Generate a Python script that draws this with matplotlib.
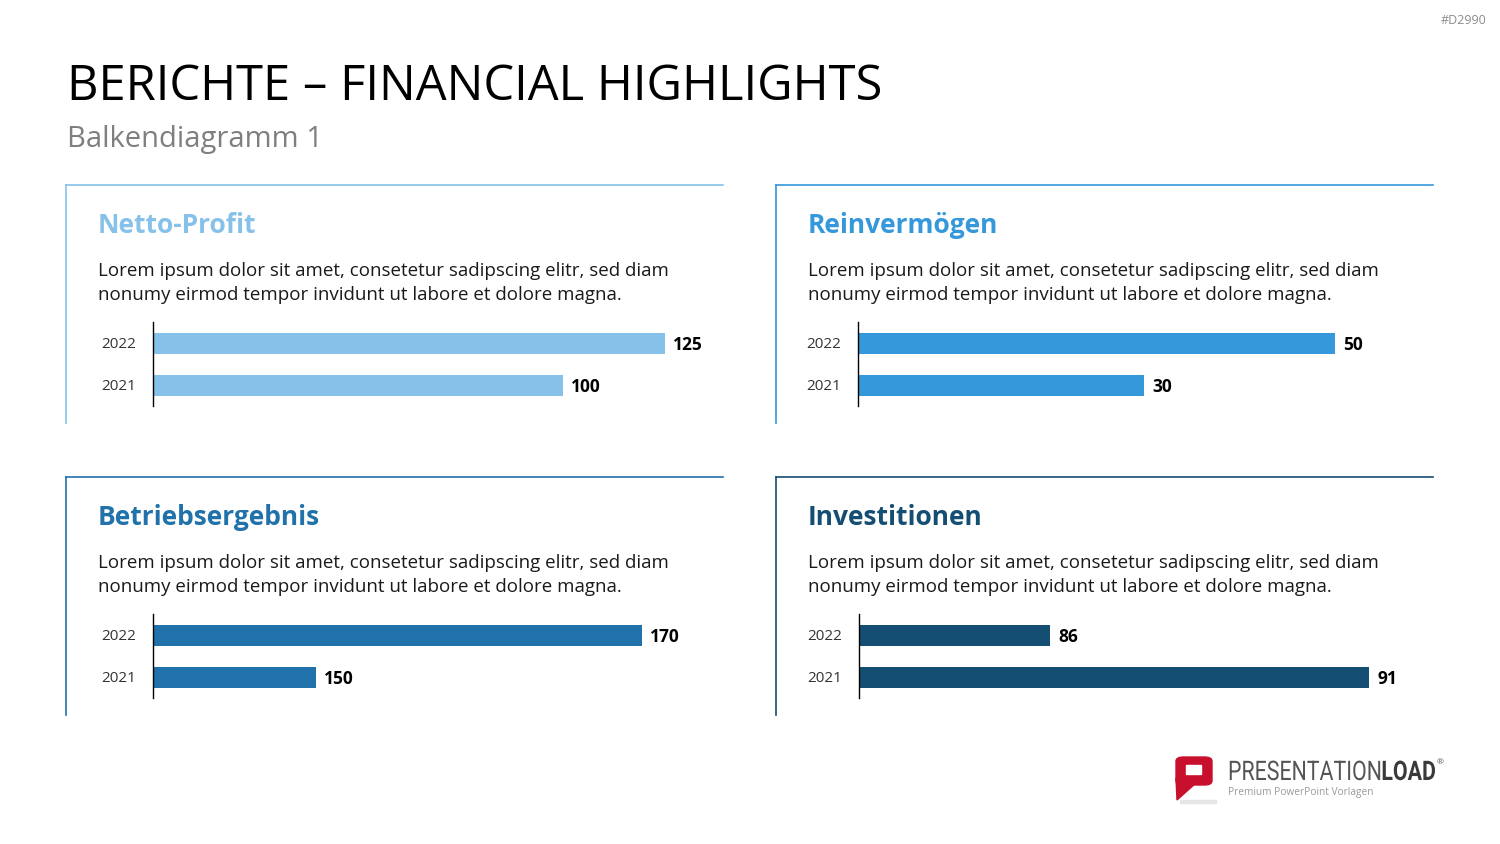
import matplotlib
matplotlib.use("Agg")
import matplotlib.pyplot as plt
from matplotlib.lines import Line2D
from matplotlib.patches import FancyBboxPatch, Rectangle, Polygon, PathPatch
from matplotlib.textpath import TextPath
from matplotlib.font_manager import FontProperties
from matplotlib.transforms import Affine2D

plt.rcParams['font.family'] = ['Open Sans', 'DejaVu Sans']

# ---------------------------------------------------------------------------
# Data
# ---------------------------------------------------------------------------
years = ['2021', '2022']
titles = ['Netto-Profit', 'Reinvermögen', 'Betriebsergebnis', 'Investitionen']
netto_profit = [100, 125]
reinvermoegen = [30, 50]
betriebsergebnis = [150, 170]
investitionen = [91, 86]
series = [netto_profit, reinvermoegen, betriebsergebnis, investitionen]
# axis ranges as shown in the original (bottom two do not start at zero)
xranges = [(0, 137.2), (0, 59.4), (140, 174.5), (83, 91.87)]
colors = ['#85C1E9', '#3498DB', '#2171AA', '#154E73']

body_lines = ["Lorem ipsum dolor sit amet, consetetur sadipscing elitr, sed diam",
              "nonumy eirmod tempor invidunt ut labore et dolore magna."]

W, H = 1500, 844
fig = plt.figure(figsize=(W / 100, H / 100), dpi=100)


def fx(x):
    return x / W


def fy(y):
    return 1 - y / H


def line(x0, y0, x1, y1, color, lw=1.2):
    fig.add_artist(Line2D([fx(x0), fx(x1)], [fy(y0), fy(y1)], color=color, lw=lw,
                          transform=fig.transFigure))


# header
fig.text(fx(67), fy(100), 'BERICHTE – FINANCIAL HIGHLIGHTS', fontsize=35.2,
         color='black', va='baseline', ha='left')
fig.text(fx(67), fy(147), 'Balkendiagramm 1', fontsize=21, color='#7F7F7F',
         va='baseline', ha='left')
fig.text(fx(1486), fy(20), '#D2990', fontsize=9, color='#8C8C8C', va='center', ha='right')

# panels: (frame left, frame top, axes left, axes width)
panels = [(66, 185, 153, 562), (776, 185, 858, 567),
          (66, 477, 153, 562), (776, 477, 859, 566)]

for (px, py, axl, axw), title, vals, xr, c in zip(panels, titles, series, xranges, colors):
    line(px, py, px + 657, py, c)
    line(px, py, px, py + 238, c)
    fig.text(fx(px + 32), fy(py + 48), title, fontsize=19, fontweight='bold',
             color=c, va='baseline', ha='left')
    for i, txt in enumerate(body_lines):
        fig.text(fx(px + 32), fy(py + 91 + 24 * i), txt, fontsize=13.5, color='#1A1A1A',
                 va='baseline', ha='left')

    ax = fig.add_axes([fx(axl), fy(py + 221), fx(axw), 84 / H])
    ypos = range(len(years))
    ax.barh(ypos, vals, height=0.5, color=c)
    ax.set_xlim(*xr)
    ax.set_ylim(-0.5, 1.5)
    ax.set_yticks(ypos)
    ax.set_yticklabels(years, fontsize=11, color='#333333')
    ax.tick_params(axis='y', length=0, pad=12)
    ax.set_xticks([])
    for s in ['top', 'right', 'bottom']:
        ax.spines[s].set_visible(False)
    ax.spines['left'].set_linewidth(1.0)
    ax.spines['left'].set_color('black')
    for yv, v in zip(ypos, vals):
        ax.annotate(str(v), (v, yv), xytext=(6, -1.5), textcoords='offset points',
                    ha='left', va='center', fontsize=12.5, fontweight='bold',
                    color='black')
    ax.patch.set_alpha(0)

# logo: red speech-bubble "P"
logo_red = '#C8102E'
fig.add_artist(Rectangle((fx(1180), fy(803)), fx(36), 3 / H, color='#E6E6E6',
                         transform=fig.transFigure))
fig.add_artist(Polygon([[fx(1176), fy(778)], [fx(1177), fy(800)], [fx(1196), fy(783)]],
                       closed=True, color=logo_red, transform=fig.transFigure))
fig.add_artist(FancyBboxPatch((fx(1176), fy(785)), fx(36), 28 / H,
                              boxstyle='round,pad=0,rounding_size=0.005',
                              color=logo_red, transform=fig.transFigure))
fig.add_artist(Rectangle((fx(1186), fy(774)), fx(15), 9 / H, color='white',
                         transform=fig.transFigure))

logo_font = FontProperties(family='Roboto')
logo_bold = FontProperties(family='Roboto', weight='bold')
p1 = TextPath((0, 0), 'PRESENTATION', size=27, prop=logo_font)
p2 = TextPath((p1.get_extents().x1 + 1.5, 0), 'LOAD', size=27, prop=logo_bold)
sx = 207 / p2.get_extents().x1
tr = Affine2D().scale(sx, 1).translate(1228, H - 780)
fig.add_artist(PathPatch(p1, transform=tr, facecolor='#555555', lw=0))
fig.add_artist(PathPatch(p2, transform=tr, facecolor='#3A3A3A', lw=0))
fig.text(fx(1437), fy(763), '®', fontsize=6, color='#555555', va='center', ha='left')
fig.text(fx(1228), fy(795), 'Premium PowerPoint Vorlagen', fontsize=7.3, color='#9A9A9A',
         va='baseline', ha='left')

fig.savefig('out.png', dpi=100)
